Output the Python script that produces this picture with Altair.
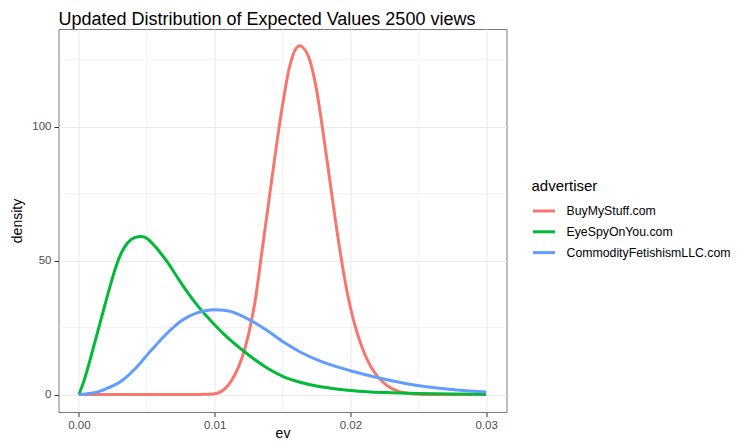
import altair as alt
import pandas as pd

title_text = "Updated Distribution of Expected Values 2500 views"
advertisers = ["BuyMyStuff.com", "EyeSpyOnYou.com", "CommodityFetishismLLC.com"]
colors = ["#F8766D", "#00BA38", "#619CFF"]

red_ev = [0.0, 0.005, 0.008, 0.009, 0.0095, 0.0100, 0.0105, 0.0110, 0.0115, 0.0120,
          0.0125, 0.0130, 0.0135, 0.0140, 0.0145, 0.0150, 0.0155, 0.0160, 0.01627,
          0.0165, 0.0170, 0.0175, 0.0180, 0.0185, 0.0190, 0.0195, 0.0200, 0.0205,
          0.0210, 0.0215, 0.0220, 0.0225, 0.0230, 0.0235, 0.0240, 0.0245, 0.0250,
          0.0260, 0.0280, 0.0300]
red_density = [0.0, 0.0, 0.02, 0.08, 0.15, 0.3, 1.2, 3.5, 7.5, 13.5,
               22.5, 35.5, 54.0, 72.5, 91.0, 108.0, 122.0, 129.3, 130.2,
               129.6, 125.0, 114.0, 97.5, 79.5, 61.5, 45.5, 32.5, 23.0,
               15.8, 10.5, 6.8, 4.2, 2.4, 1.3, 0.7, 0.35, 0.15,
               0.05, 0.0, 0.0]

green_ev = [0.0, 0.0004, 0.0008, 0.0012, 0.0016, 0.0020, 0.0024, 0.0028, 0.0032, 0.0036,
            0.0041, 0.0046, 0.0051, 0.0054, 0.0057, 0.0061, 0.0065, 0.0072, 0.0079, 0.0087,
            0.0094, 0.0101, 0.0107, 0.0114, 0.0122, 0.0130, 0.0139, 0.0151, 0.0163, 0.0176,
            0.0188, 0.0200, 0.0215, 0.0230, 0.0250, 0.0275, 0.0300]
green_density = [0.0, 5.5, 12.5, 20.0, 27.5, 35.0, 42.3, 48.8, 53.6, 56.7,
                 58.6, 59.0, 58.0, 56.5, 54.8, 52.3, 49.6, 44.2, 38.9, 33.5,
                 29.3, 25.5, 22.5, 19.3, 16.0, 12.9, 9.8, 6.6, 4.6, 3.1,
                 2.2, 1.5, 1.0, 0.7, 0.4, 0.2, 0.1]

blue_ev = [0.0, 0.0009, 0.0015, 0.0021, 0.0028, 0.0034, 0.0040, 0.0046, 0.0051, 0.0056,
           0.0060, 0.0064, 0.0069, 0.0074, 0.0080, 0.0087, 0.0093, 0.0100, 0.0107, 0.0113,
           0.0118, 0.0129, 0.0139, 0.0151, 0.0163, 0.0176, 0.0188, 0.0200, 0.0222, 0.0247,
           0.0271, 0.0300]
blue_density = [0.0, 0.5, 1.2, 2.4, 4.0, 6.1, 8.9, 12.2, 15.2, 18.0,
                20.3, 22.4, 24.8, 27.0, 28.9, 30.5, 31.3, 31.7, 31.5, 30.9,
                29.9, 27.0, 23.8, 19.5, 15.9, 12.9, 10.7, 8.9, 6.1, 3.6,
                2.1, 1.0]

x_major = [0.0, 0.01, 0.02, 0.03]
x_minor = [0.005, 0.015, 0.025]
y_major = [0, 50, 100]
y_minor = [25, 75, 125]
x_domain = [-0.0015, 0.0315]
y_domain = [-6.5, 136.5]

rows = []
for name, xs, ys in zip(advertisers, [red_ev, green_ev, blue_ev],
                        [red_density, green_density, blue_density]):
    for x, y in zip(xs, ys):
        rows.append({"advertiser": name, "ev": x, "density": y})
df = pd.DataFrame(rows)

xscale = alt.Scale(domain=x_domain, nice=False, zero=False)
yscale = alt.Scale(domain=y_domain, nice=False, zero=False)

minor_x = alt.Chart(pd.DataFrame({"v": x_minor})).mark_rule(
    color="#ebebeb", strokeWidth=0.6
).encode(x=alt.X("v:Q", scale=xscale))
minor_y = alt.Chart(pd.DataFrame({"v": y_minor})).mark_rule(
    color="#ebebeb", strokeWidth=0.6
).encode(y=alt.Y("v:Q", scale=yscale))

base = alt.Chart(df)

def line_for(name):
    return base.transform_filter(alt.datum.advertiser == name).mark_line(
        strokeWidth=3, interpolate="monotone"
    ).encode(
        x=alt.X("ev:Q", scale=xscale,
                axis=alt.Axis(values=x_major, format=".2f", title="ev",
                              titleX=224, titleY=25, titleBaseline="alphabetic",
                              titleAnchor="middle")),
        y=alt.Y("density:Q", scale=yscale,
                axis=alt.Axis(values=y_major, format="d", title="density",
                              titleX=-41.5, titleY=191.5, titleAngle=-90,
                              titleBaseline="middle", titleAnchor="middle")),
        color=alt.Color("advertiser:N",
                        scale=alt.Scale(domain=advertisers, range=colors),
                        legend=alt.Legend(title="advertiser", orient="none",
                                          legendX=473, legendY=150,
                                          symbolType="stroke", symbolSize=484,
                                          symbolStrokeWidth=3, labelOffset=10,
                                          labelLimit=400,
                                          rowPadding=1.8, padding=0, titlePadding=4.5)),
    )

title_layer = alt.Chart(pd.DataFrame({"t": [title_text]})).mark_text(
    align="left", baseline="alphabetic", fontSize=18, font="Liberation Sans",
    color="#000000"
).encode(text="t:N", x=alt.value(0), y=alt.value(-4.5))

chart = alt.layer(
    minor_x, minor_y,
    line_for(advertisers[0]), line_for(advertisers[1]), line_for(advertisers[2]),
    title_layer
).properties(
    width=448, height=383,
    autosize=alt.AutoSizeParams(type="none"),
    padding={"left": 50.5, "top": 21, "right": 225, "bottom": 27},
).configure_view(
    stroke="#7a7a7a", strokeWidth=1
).configure_axis(
    domain=False, grid=True, gridColor="#ebebeb", gridWidth=1.1,
    ticks=True, tickColor="#333333", tickSize=4.5, tickWidth=1,
    labelFont="Liberation Sans", labelFontSize=11.5, labelColor="#4d4d4d",
    labelPadding=2.5, titleFont="Liberation Sans", titleFontSize=14,
    titleFontWeight="normal", titleColor="#000000"
).configure_axisY(labelPadding=3).configure_legend(
    titleFont="Liberation Sans", titleFontSize=15, titleFontWeight="normal",
    titleColor="#000000", labelFont="Liberation Sans", labelFontSize=12.3,
    labelColor="#000000"
)

chart.save("out.html", embed_options={"renderer": "svg", "actions": False})
